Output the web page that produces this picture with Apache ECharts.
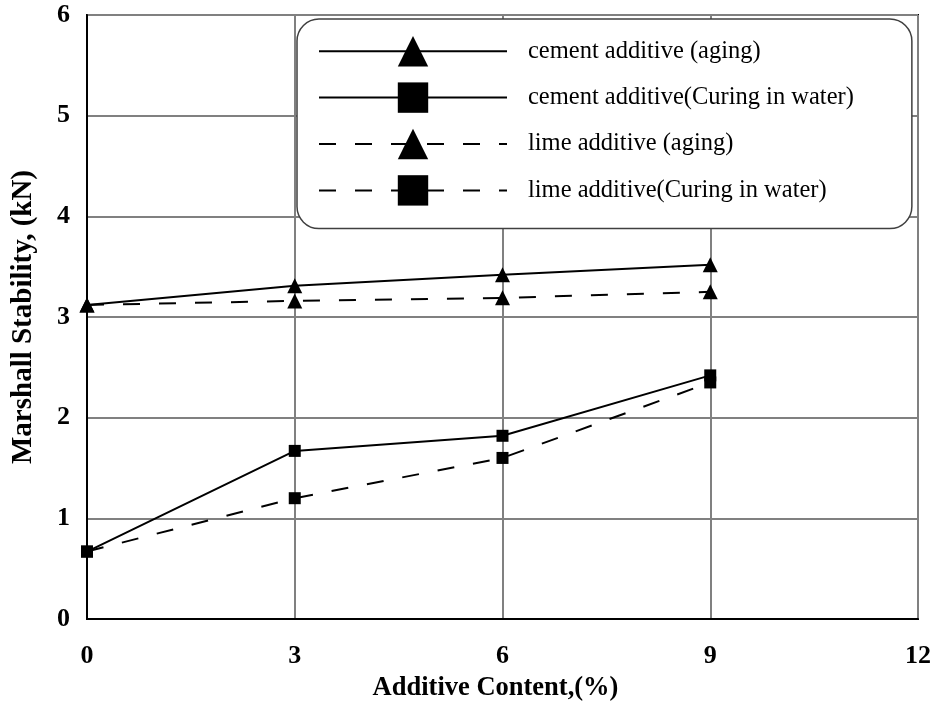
<!DOCTYPE html>
<html>
<head>
<meta charset="utf-8">
<script src="https://cdn.jsdelivr.net/npm/echarts@6/dist/echarts.min.js"></script>
<style>html,body{margin:0;padding:0;background:#fff;}#c{width:936px;height:702px;}</style>
</head>
<body>
<div id="c"></div>
<script>
var xValues = [0, 3, 6, 9];
var cementAging = [3.12, 3.31, 3.42, 3.52];
var cementWater = [0.67, 1.67, 1.82, 2.42];
var limeAging = [3.12, 3.16, 3.19, 3.25];
var limeWater = [0.67, 1.20, 1.60, 2.35];
var seriesNames = ['cement additive (aging)', 'cement additive(Curing in water)', 'lime additive (aging)', 'lime additive(Curing in water)'];

function pairs(vals) { return xValues.map(function (x, i) { return [x, vals[i]]; }); }
var FONT = '"Liberation Serif", "Times New Roman", serif';
var dash = [17, 19];
function mk(name, vals, symbol, size, dashed) {
  return {
    name: name, type: 'line', data: pairs(vals), symbol: symbol, symbolSize: size,
    itemStyle: { color: '#000' },
    lineStyle: { color: '#000', width: 2, type: dashed ? dash : 'solid' },
    emphasis: { disabled: true }, animation: false, z: dashed ? 3 : 4
  };
}
var chart = echarts.init(document.getElementById('c'));
chart.setOption({
  backgroundColor: '#fff',
  animation: false,
  grid: { left: 87, right: 18, top: 15, bottom: 83, show: true, borderColor: '#000', borderWidth: 2, outerBoundsMode: 'none', containLabel: false },
  legend: {
    orient: 'vertical', left: 297, top: 19,
    padding: [17, 58, 23, 21],
    itemWidth: 188, itemHeight: 38, itemGap: 16,
    backgroundColor: '#fff', borderColor: '#404040', borderWidth: 1.5, borderRadius: 22,
    textStyle: { fontFamily: FONT, fontSize: 24.5, color: '#000', padding: [0, 0, 0, 16] },
    data: seriesNames, selectedMode: false, z: 10
  },
  xAxis: {
    type: 'value', min: 0, max: 12, interval: 3,
    name: 'Additive Content,(%)', nameLocation: 'middle', nameGap: 56,
    nameTextStyle: { fontFamily: FONT, fontSize: 26.5, fontWeight: 'bold', color: '#000', padding: [0, 14, 0, 0] },
    axisLine: { show: true, lineStyle: { color: '#000', width: 2 } },
    axisTick: { show: false },
    axisLabel: { fontFamily: FONT, fontSize: 26, fontWeight: 'bold', color: '#000', margin: 24 },
    splitLine: { show: true, lineStyle: { color: '#808080', width: 2 } }
  },
  yAxis: {
    type: 'value', min: 0, max: 6, interval: 1,
    name: 'Marshall Stability, (kN)', nameLocation: 'middle', nameGap: 49,
    nameTextStyle: { fontFamily: FONT, fontSize: 29, fontWeight: 'bold', color: '#000' },
    axisLine: { show: true, lineStyle: { color: '#000', width: 2 } },
    axisTick: { show: false },
    axisLabel: { fontFamily: FONT, fontSize: 26, fontWeight: 'bold', color: '#000', margin: 17 },
    splitLine: { show: true, lineStyle: { color: '#808080', width: 2 } }
  },
  series: [
    mk(seriesNames[0], cementAging, 'triangle', 15, false),
    mk(seriesNames[1], cementWater, 'rect', 12, false),
    mk(seriesNames[2], limeAging, 'triangle', 15, true),
    mk(seriesNames[3], limeWater, 'rect', 12, true)
  ]
});
</script>
</body>
</html>
